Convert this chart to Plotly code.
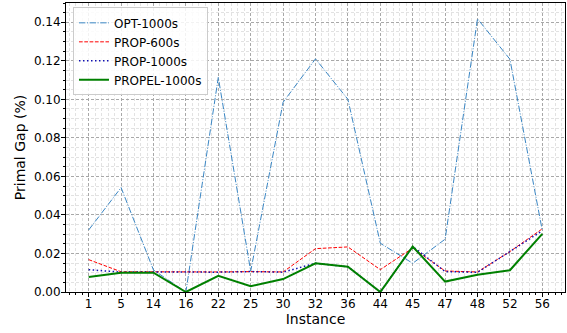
import plotly.graph_objects as go

# Instances on the x axis (categorical, evenly spaced)
instances = ["1", "5", "14", "16", "22", "25", "30", "32", "36", "44", "45", "47", "48", "52", "56"]

# Primal gap (%) per method
opt_1000 = [0.0322, 0.0542, 0.0114, 0.0, 0.1114, 0.0108, 0.0985, 0.1210, 0.1000,
            0.0253, 0.0149, 0.0274, 0.1418, 0.1208, 0.0318]
prop_600 = [0.0168, 0.0105, 0.0105, 0.0104, 0.0104, 0.0106, 0.0104, 0.0225, 0.0234,
            0.0116, 0.0228, 0.0109, 0.0104, 0.0210, 0.0328]
prop_1000 = [0.0116, 0.0103, 0.0104, 0.0103, 0.0103, 0.0106, 0.0103, 0.0149, 0.0131,
             0.0, 0.0236, 0.0106, 0.0102, 0.0210, 0.0318]
propel_1000 = [0.0078, 0.0100, 0.0100, 0.0, 0.0084, 0.0030, 0.0067, 0.0149, 0.0131,
               0.0, 0.0236, 0.0054, 0.0090, 0.0113, 0.0302]

y_ticks = [0.00, 0.02, 0.04, 0.06, 0.08, 0.10, 0.12, 0.14]

FONT = "DejaVu Sans"
xpos = list(range(len(instances)))

series = [
    ("OPT-1000s", opt_1000, "#3a86c4", 1.0, "6.4px,1.6px,1px,1.6px"),
    ("PROP-600s", prop_600, "#ff0000", 1.0, "3.7px,1.6px"),
    ("PROP-1000s", prop_1000, "#1010b0", 1.5, "1.5px,2.5px"),
    ("PROPEL-1000s", propel_1000, "#008000", 2.0, "solid"),
]

fig = go.Figure()
for name, vals, color, width, dash in series:
    fig.add_trace(go.Scatter(
        x=xpos, y=vals, name=name, mode="lines",
        line=dict(color=color, width=width, dash=dash),
    ))

fig.update_layout(
    width=567, height=333,
    margin=dict(l=66, r=2, t=3, b=41),
    plot_bgcolor="white", paper_bgcolor="white",
    font=dict(family=FONT, size=12, color="black"),
    showlegend=True,
    legend=dict(
        x=0.014, y=0.985, xanchor="left", yanchor="top",
        bgcolor="rgba(255,255,255,0.85)", bordercolor="#cccccc", borderwidth=1,
        font=dict(family=FONT, size=12), tracegroupgap=0, itemwidth=30,
    ),
)

fig.update_xaxes(
    range=[-0.7, 14.7],
    tickmode="array", tickvals=xpos, ticktext=instances,
    showline=True, linecolor="black", linewidth=1, mirror=True,
    ticks="outside", ticklen=4, tickcolor="black", ticklabelstandoff=-3,
    showgrid=True, gridcolor="#a8a8a8", griddash="3px,2px", gridwidth=0.8,
    zeroline=False,
    minor=dict(dtick=0.2, tick0=0, showgrid=True, gridcolor="#e2e2e2", gridwidth=0.8,
               ticks="outside", ticklen=2, tickcolor="black"),
    title=dict(text="Instance", font=dict(family=FONT, size=14), standoff=2),
)
fig.update_yaxes(
    range=[0, 0.15],
    tickmode="array", tickvals=y_ticks, ticktext=[f"{v:.2f}" for v in y_ticks],
    showline=True, linecolor="black", linewidth=1, mirror=True,
    ticks="outside", ticklen=4, tickcolor="black", ticklabelstandoff=-2,
    showgrid=True, gridcolor="#a8a8a8", griddash="3px,2px", gridwidth=0.8,
    zeroline=False,
    minor=dict(dtick=0.005, tick0=0, showgrid=True, gridcolor="#e2e2e2", gridwidth=0.8,
               ticks="outside", ticklen=2, tickcolor="black"),
    title=dict(text="Primal Gap (%)", font=dict(family=FONT, size=14), standoff=4),
)

fig.write_html("out.html")
